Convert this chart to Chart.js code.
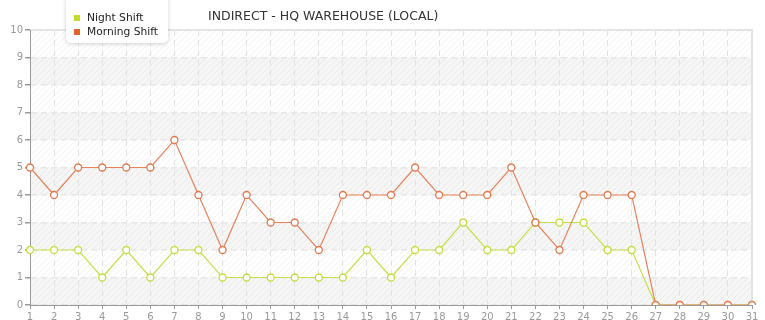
<!DOCTYPE html>
<html>
<head>
<meta charset="utf-8">
<script src="https://cdn.jsdelivr.net/npm/chart.js@4.4.1/dist/chart.umd.min.js"></script>
<style>
  html, body { margin: 0; padding: 0; background: #fff; }
  #wrap { width: 765px; height: 320px; position: relative; }
</style>
</head>
<body>
<div id="wrap"><canvas id="shifts"></canvas></div>
<script>
// chart data
const days = ["1","2","3","4","5","6","7","8","9","10","11","12","13","14","15","16",
  "17","18","19","20","21","22","23","24","25","26","27","28","29","30","31"];
const nightShift = [2,2,2,1,2,1,2,2,1,1,1,1,1,1,2,1,2,2,3,2,2,3,3,3,2,2,0,0,0,0,0];
const morningShift = [5,4,5,5,5,5,6,4,2,4,3,3,2,4,4,4,5,4,4,4,5,3,2,4,4,4,0,0,0,0,0];
const yTicks = [0,1,2,3,4,5,6,7,8,9,10];
const chartTitle = "INDIRECT - HQ WAREHOUSE (LOCAL)";

const FONT = "'DejaVu Sans', Verdana, sans-serif";

// diagonal hatch used as plot background
function makeHatch() {
  let c = document.createElement("canvas");
  c.width = 6; c.height = 6;
  let g = c.getContext("2d");
  g.strokeStyle = "rgba(0,0,0,0.05)";
  g.lineWidth = 1;
  g.beginPath();
  g.moveTo(0, 6); g.lineTo(6, 0);
  g.moveTo(-1, 1); g.lineTo(1, -1);
  g.moveTo(5, 7); g.lineTo(7, 5);
  g.stroke();
  return c;
}

const bandsPlugin = {
  id: "bands",
  beforeDraw(chart) {
    let ctx = chart.ctx, a = chart.chartArea, y = chart.scales.y;
    ctx.save();
    for (let i = 0; i < yTicks.length - 1; i++) {
      if (yTicks[i] % 2 === 0) {
        let top = y.getPixelForValue(yTicks[i] + 1);
        let bot = y.getPixelForValue(yTicks[i]);
        ctx.fillStyle = "#f6f6f6";
        ctx.fillRect(a.left, top, a.right - a.left, bot - top);
      }
    }
    ctx.fillStyle = ctx.createPattern(makeHatch(), "repeat");
    ctx.fillRect(a.left, a.top, a.right - a.left, a.bottom - a.top);
    // frame top/right
    ctx.strokeStyle = "#e2e2e2";
    ctx.lineWidth = 2;
    ctx.beginPath();
    ctx.moveTo(a.left, a.top);
    ctx.lineTo(a.right, a.top);
    ctx.lineTo(a.right, a.bottom);
    ctx.stroke();
    ctx.restore();
  }
};

const legendPlugin = {
  id: "boxLegend",
  afterDraw(chart) {
    let ctx = chart.ctx;
    ctx.save();
    // title
    ctx.fillStyle = "#333";
    ctx.font = "12.5px " + FONT;
    ctx.textBaseline = "middle";
    ctx.textAlign = "left";
    ctx.fillText(chartTitle, 208, 17);

    // legend box
    ctx.shadowColor = "rgba(0,0,0,0.18)";
    ctx.shadowBlur = 4;
    ctx.shadowOffsetY = 1;
    ctx.fillStyle = "#fff";
    ctx.beginPath();
    ctx.roundRect(66, -6, 102, 49, 5);
    ctx.fill();
    ctx.shadowColor = "transparent";

    let items = [
      { label: chart.data.datasets[0].label, color: "#bfdc2c" },
      { label: chart.data.datasets[1].label, color: "#e0642c" }
    ];
    ctx.font = "10.7px " + FONT;
    items.forEach((it, i) => {
      let cy = 18 + i * 14;
      ctx.fillStyle = it.color;
      ctx.fillRect(74, cy - 3, 6, 6);
      ctx.fillStyle = "#222";
      ctx.fillText(it.label, 87, cy);
    });
    ctx.restore();
  }
};

new Chart(document.getElementById("shifts"), {
  type: "line",
  data: {
    labels: days,
    datasets: [
      {
        label: "Night Shift",
        data: nightShift,
        borderColor: "#c6e04a",
        backgroundColor: "#fff",
        pointBorderColor: "#c2de3e",
        pointBackgroundColor: "#fff",
        borderWidth: 1.2,
        pointRadius: 3.5,
        pointBorderWidth: 1.3,
        tension: 0,
        order: 1
      },
      {
        label: "Morning Shift",
        data: morningShift,
        borderColor: "#e8825a",
        backgroundColor: "#fff",
        pointBorderColor: "#e2784c",
        pointBackgroundColor: "#fff",
        borderWidth: 1.2,
        pointRadius: 3.5,
        pointBorderWidth: 1.3,
        tension: 0,
        order: 0
      }
    ]
  },
  options: {
    responsive: true,
    maintainAspectRatio: false,
    animation: false,
    layout: { padding: { top: 30, right: 13, left: 0, bottom: 0 } },
    plugins: {
      legend: { display: false },
      title: { display: false },
      tooltip: { enabled: false }
    },
    scales: {
      x: {
        offset: false,
        afterFit(scale) { scale.height = 15; },
        grid: {
          color: "#e2e2e2",
          lineWidth: 1,
          tickColor: "#999",
          tickLength: 4
        },
        border: { display: true, color: "#999", width: 1, dash: [6, 4] },
        ticks: {
          color: "#999",
          font: { family: FONT, size: 10 },
          padding: 2,
          maxRotation: 0,
          autoSkip: false
        }
      },
      y: {
        min: 0,
        max: 10,
        afterFit(scale) { scale.width = 30; },
        afterBuildTicks(scale) { scale.ticks = yTicks.map(v => ({ value: v })); },
        grid: {
          color: "#e6e6e6",
          lineWidth: 1.5,
          tickColor: "#999",
          tickLength: 5
        },
        border: { display: true, color: "#999", width: 1, dash: [6, 4] },
        ticks: {
          color: "#999",
          font: { family: FONT, size: 10 },
          padding: 2
        }
      }
    }
  },
  plugins: [bandsPlugin, legendPlugin]
});
</script>
</body>
</html>
